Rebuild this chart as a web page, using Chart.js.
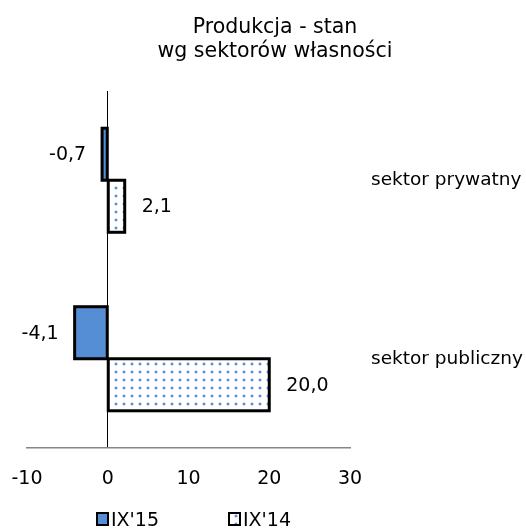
<!DOCTYPE html>
<html>
<head>
<meta charset="utf-8">
<script src="https://cdn.jsdelivr.net/npm/chart.js@4"></script>
<style>
html, body { margin: 0; padding: 0; background: #fff; }
#wrap { width: 526px; height: 530px; }
</style>
</head>
<body>
<div id="wrap"><canvas id="chart"></canvas></div>
<script>
const categories = ['sektor prywatny', 'sektor publiczny'];
const series_names = ["IX'15", "IX'14"];
const values_ix15 = [-0.7, -4.1];
const values_ix14 = [2.1, 20.0];
const title_lines = ['Produkcja - stan', 'wg sektorów własności'];
const x_min = -10, x_max = 30, x_step = 10;

const FONT = '"DejaVu Sans", Verdana, sans-serif';
const blue = '#558ed5';

const canvas = document.getElementById('chart');

function dotPattern() {
    const c = document.createElement('canvas');
    c.width = 8; c.height = 8;
    const g = c.getContext('2d');
    g.fillStyle = '#fff';
    g.fillRect(0, 0, 8, 8);
    g.fillStyle = '#c9daf3';
    g.fillRect(2, 2, 4, 4);
    g.fillStyle = '#fff';
    g.fillRect(2, 2, 1, 1); g.fillRect(5, 2, 1, 1);
    g.fillRect(2, 5, 1, 1); g.fillRect(5, 5, 1, 1);
    g.fillStyle = '#5a8fd8';
    g.fillRect(3, 3, 2, 2);
    return canvas.getContext('2d').createPattern(c, 'repeat');
}
const dots = dotPattern();

// black outline centred on the bar edge, like the original
const barOutline = {
    id: 'barOutline',
    afterDatasetsDraw(chart) {
        const ctx = chart.ctx;
        ctx.save();
        ctx.strokeStyle = '#000';
        ctx.lineWidth = 3;
        ctx.lineJoin = 'miter';
        chart.data.datasets.forEach((ds, i) => {
            chart.getDatasetMeta(i).data.forEach(bar => {
                const p = bar.getProps(['x', 'y', 'base', 'height'], true);
                const l = Math.min(p.x, p.base), r = Math.max(p.x, p.base);
                ctx.strokeRect(l, p.y - p.height / 2, r - l, p.height);
            });
        });
        ctx.restore();
    }
};

// value labels next to bar ends
const valueLabels = {
    id: 'valueLabels',
    afterDatasetsDraw(chart) {
        const ctx = chart.ctx;
        ctx.save();
        ctx.font = '19px ' + FONT;
        ctx.fillStyle = '#000';
        ctx.textBaseline = 'middle';
        chart.data.datasets.forEach((ds, i) => {
            chart.getDatasetMeta(i).data.forEach((bar, j) => {
                const v = ds.data[j];
                const txt = v.toFixed(1).replace('.', ',');
                if (v < 0) {
                    ctx.textAlign = 'right';
                    ctx.fillText(txt, bar.x - 16, bar.y + 1);
                } else {
                    ctx.textAlign = 'left';
                    ctx.fillText(txt, bar.x + 17, bar.y + 1);
                }
            });
        });
        ctx.restore();
    }
};

// title and legend drawn by hand, placed like the original
const titleLegend = {
    id: 'titleLegend',
    afterDraw(chart) {
        const ctx = chart.ctx;
        ctx.save();
        ctx.fillStyle = '#000';
        ctx.textAlign = 'center';
        ctx.textBaseline = 'alphabetic';
        ctx.font = '20.5px ' + FONT;
        title_lines.forEach((t, i) => ctx.fillText(t, 275, 33 + i * 24));

        ctx.font = '19px ' + FONT;
        ctx.textAlign = 'left';
        chart.data.datasets.forEach((ds, i) => {
            const x = 97 + i * 132, y = 513;
            ctx.fillStyle = ds.backgroundColor;
            ctx.fillRect(x, y, 11, 12);
            ctx.strokeStyle = '#000';
            ctx.lineWidth = 2;
            ctx.strokeRect(x, y, 11, 12);
            ctx.fillStyle = '#000';
            ctx.fillText(ds.label, x + 14, 525.5);
        });
        ctx.restore();
    }
};

new Chart(canvas, {
    type: 'bar',
    data: {
        labels: categories,
        datasets: [{
            label: series_names[0],
            data: values_ix15,
            backgroundColor: blue,
            borderWidth: 0,
            categoryPercentage: 0.583,
            barPercentage: 1
        }, {
            label: series_names[1],
            data: values_ix14,
            backgroundColor: dots,
            borderWidth: 0,
            categoryPercentage: 0.583,
            barPercentage: 1
        }]
    },
    options: {
        indexAxis: 'y',
        responsive: true,
        maintainAspectRatio: false,
        animation: false,
        layout: { padding: { left: 27, top: 91, right: 0, bottom: 0 } },
        plugins: {
            legend: { display: false },
            title: { display: false },
            tooltip: { enabled: false }
        },
        scales: {
            x: {
                min: x_min,
                max: x_max,
                ticks: {
                    stepSize: x_step,
                    color: '#000',
                    font: { family: FONT, size: 19 },
                    padding: 20
                },
                grid: {
                    drawTicks: false,
                    color: c => (c.tick && c.tick.value === 0) ? '#000' : 'rgba(0,0,0,0)',
                    lineWidth: 1
                },
                border: { color: '#868686', width: 1.5 },
                afterFit: s => { s.height = 82; s.paddingLeft = 0; s.paddingRight = 0; }
            },
            y: {
                position: 'right',
                grid: { display: false },
                border: { display: false },
                ticks: {
                    color: '#000',
                    font: { family: FONT, size: 18.5 },
                    padding: 13
                },
                afterFit: s => { s.width = 176; }
            }
        }
    },
    plugins: [barOutline, valueLabels, titleLegend]
});
</script>
</body>
</html>
